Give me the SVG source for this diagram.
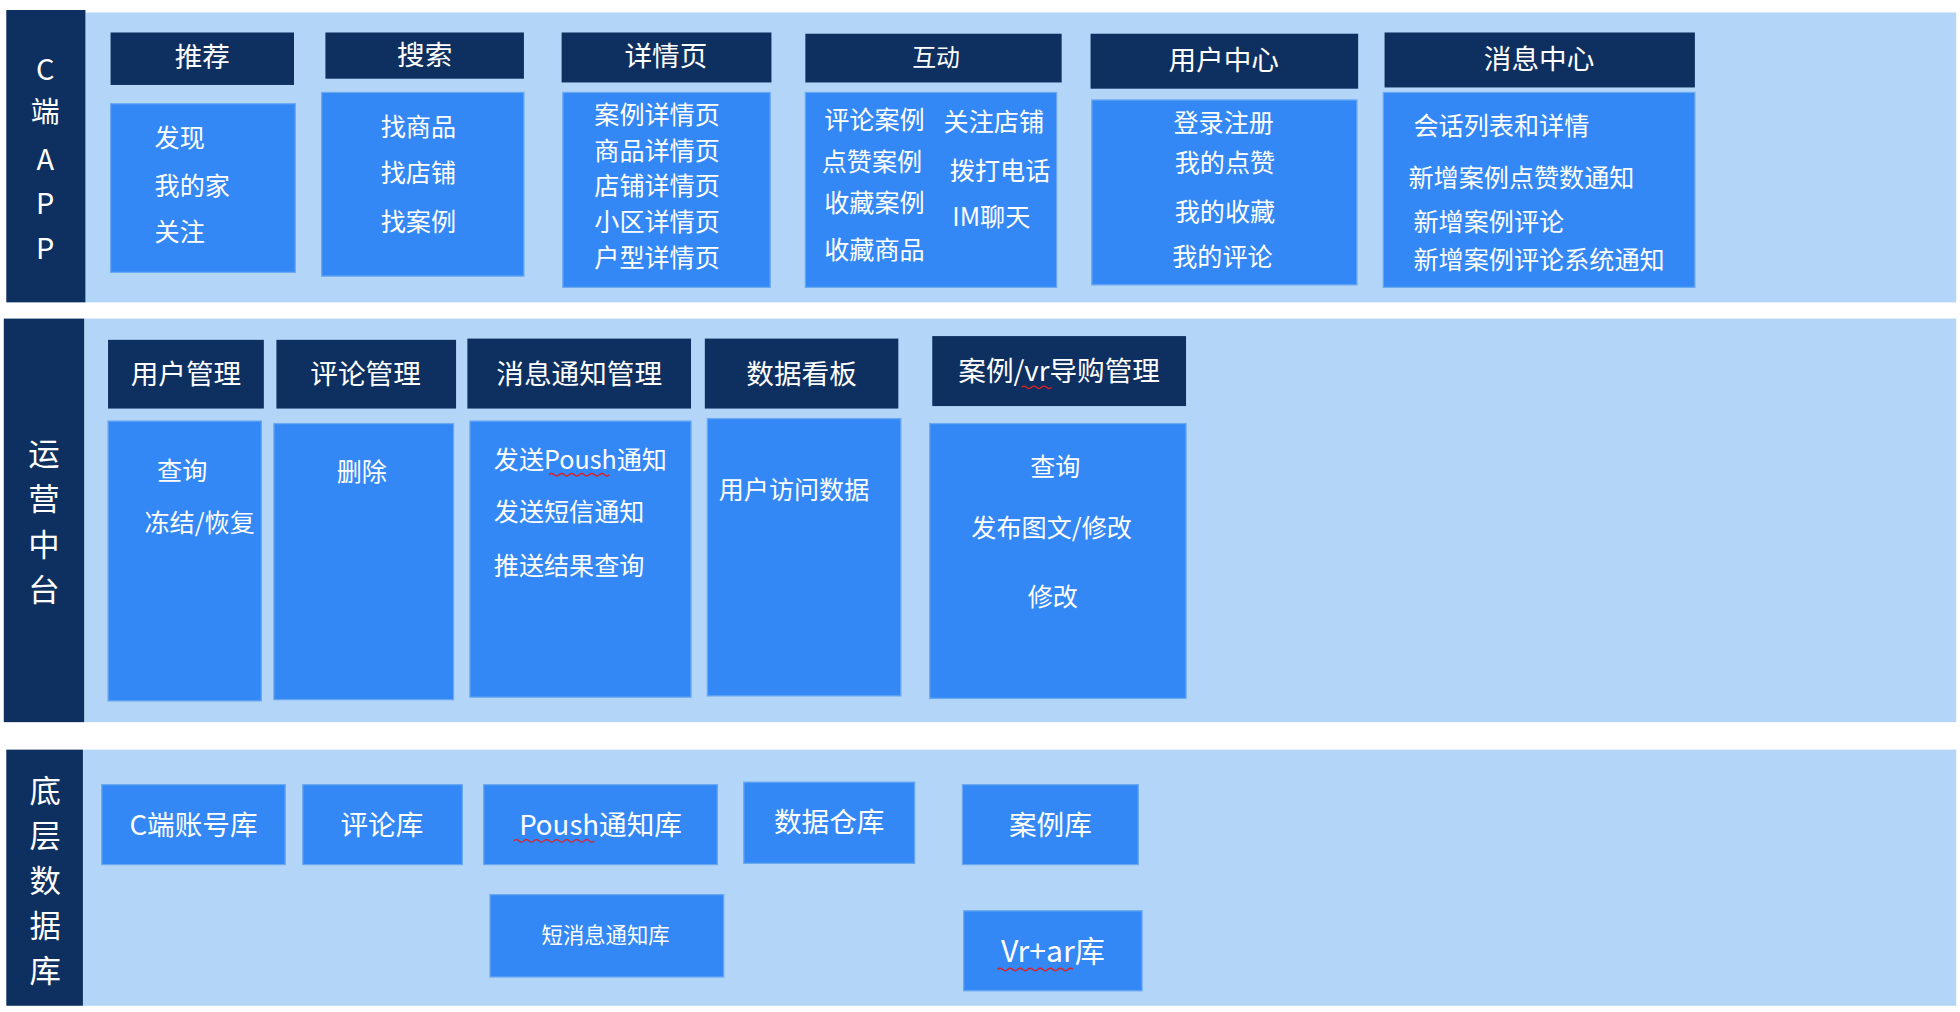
<svg xmlns="http://www.w3.org/2000/svg" width="1960" height="1012" viewBox="0 0 1960 1012">
<style>
.band{fill:#b3d5f8}
.lab{fill:#0e3060}
.hd{fill:#0e3060}
.bx{fill:#3388f5;stroke:#6aa8f0;stroke-width:1}
text{font-family:"Noto Sans CJK SC","Liberation Sans",sans-serif;fill:#fff}
.t{font-size:20px}
.h{font-size:22px}
.v{font-size:25px;text-anchor:middle}
.m{text-anchor:middle}
.sq{fill:none;stroke:#e02020;stroke-width:1}
</style>
<rect width="1960" height="1012" fill="#fff"/>
<g transform="scale(1.2564 1.2494)">
<g id="layer-capp">
<rect class="band" x="68" y="10" width="1489" height="232"/>
<rect class="lab" x="5" y="8" width="63" height="234"/>
<text class="v" x="36" y="64" style="font-size:23px">C</text>
<text class="v" x="36" y="98" style="font-size:23px">端</text>
<text class="v" x="36" y="136" style="font-size:23px">A</text>
<text class="v" x="36" y="171" style="font-size:23px">P</text>
<text class="v" x="36" y="207" style="font-size:23px">P</text>
</g>
<g id="layer-ops">
<rect class="band" x="67" y="255" width="1490" height="323"/>
<rect class="lab" x="3" y="255" width="64" height="323"/>
<text class="v" x="35" y="372">运</text>
<text class="v" x="35" y="408">营</text>
<text class="v" x="35" y="445">中</text>
<text class="v" x="35" y="481">台</text>
</g>
<g id="layer-db">
<rect class="band" x="66" y="600" width="1491" height="205"/>
<rect class="lab" x="5" y="600" width="61" height="205"/>
<text class="v" x="36" y="642">底</text>
<text class="v" x="36" y="678">层</text>
<text class="v" x="36" y="714">数</text>
<text class="v" x="36" y="750">据</text>
<text class="v" x="36" y="786">库</text>
</g>
<g id="rec">
<rect class="hd" x="88" y="26" width="146" height="42"/><text class="h m" x="161" y="54">推荐</text>
<rect class="bx" x="88" y="83" width="147" height="135"/>
<text class="t" x="123" y="118">发现</text><text class="t" x="123" y="156">我的家</text><text class="t" x="123" y="193">关注</text>
</g>
<g id="search">
<rect class="hd" x="259" y="26" width="158" height="37"/><text class="h m" x="338" y="52">搜索</text>
<rect class="bx" x="256" y="74" width="161" height="147"/>
<text class="t" x="303" y="109">找商品</text><text class="t" x="303" y="146">找店铺</text><text class="t" x="303" y="185">找案例</text>
</g>
<g id="detail">
<rect class="hd" x="447" y="26" width="167" height="40"/><text class="h m" x="530" y="53">详情页</text>
<rect class="bx" x="448" y="74" width="165" height="156"/>
<text class="t" x="473" y="99">案例详情页</text><text class="t" x="473" y="128">商品详情页</text><text class="t" x="473" y="156">店铺详情页</text><text class="t" x="473" y="185">小区详情页</text><text class="t" x="473" y="214">户型详情页</text>
</g>
<g id="interact">
<rect class="hd" x="641" y="27" width="204" height="39"/><text class="m" x="745" y="53" style="font-size:19px">互动</text>
<rect class="bx" x="641" y="74" width="200" height="156"/>
<text class="t" x="656" y="103">评论案例</text><text class="t" x="654" y="137">点赞案例</text><text class="t" x="656" y="170">收藏案例</text><text class="t" x="656" y="207">收藏商品</text>
<text class="t" x="751" y="105">关注店铺</text><text class="t" x="756" y="144">拨打电话</text><text class="t" x="758" y="181">IM聊天</text>
</g>
<g id="user">
<rect class="hd" x="868" y="27" width="213" height="44"/><text class="h m" x="974" y="56">用户中心</text>
<rect class="bx" x="869" y="80" width="211" height="148"/>
<text class="t m" x="974" y="106">登录注册</text><text class="t m" x="975" y="138">我的点赞</text><text class="t m" x="975" y="177">我的收藏</text><text class="t m" x="973" y="213">我的评论</text>
</g>
<g id="msg">
<rect class="hd" x="1102" y="26" width="247" height="44"/><text class="h m" x="1225" y="55">消息中心</text>
<rect class="bx" x="1101" y="74" width="248" height="156"/>
<text class="t" x="1125" y="108">会话列表和详情</text><text class="t" x="1121" y="150">新增案例点赞数通知</text><text class="t" x="1125" y="185">新增案例评论</text><text class="t" x="1125" y="215">新增案例评论系统通知</text>
</g>
<g id="usermgmt">
<rect class="hd" x="86" y="272" width="124" height="55"/><text class="h m" x="148" y="307">用户管理</text>
<rect class="bx" x="86" y="337" width="122" height="224"/>
<text class="t m" x="145" y="384">查询</text><text class="t" x="115" y="426">冻结/恢复</text>
</g>
<g id="commgmt">
<rect class="hd" x="220" y="272" width="143" height="55"/><text class="h m" x="291" y="307">评论管理</text>
<rect class="bx" x="218" y="339" width="143" height="221"/>
<text class="t m" x="288" y="385">删除</text>
</g>
<g id="notifmgmt">
<rect class="hd" x="372" y="271" width="178" height="56"/><text class="h m" x="461" y="307">消息通知管理</text>
<rect class="bx" x="374" y="337" width="176" height="221"/>
<text class="t" x="393" y="375">发送Poush通知</text><text class="t" x="393" y="417">发送短信通知</text><text class="t" x="393" y="460">推送结果查询</text>
<path class="sq" d="M437 380 q2 -2 4 0 t4 0 t4 0 t4 0 t4 0 t4 0 t4 0 t4 0 t4 0 t4 0 t4 0 t4 0"/>
</g>
<g id="dashboard">
<rect class="hd" x="561" y="271" width="154" height="56"/><text class="h m" x="638" y="307">数据看板</text>
<rect class="bx" x="563" y="335" width="154" height="222"/>
<text class="t" x="572" y="399">用户访问数据</text>
</g>
<g id="casemgmt">
<rect class="hd" x="742" y="269" width="202" height="56"/><text class="h m" x="843" y="305">案例/vr导购管理</text>
<rect class="bx" x="740" y="339" width="204" height="220"/>
<text class="t m" x="840" y="381">查询</text><text class="t m" x="837" y="430">发布图文/修改</text><text class="t m" x="838" y="485">修改</text>
<path class="sq" d="M813 310 q2 -2 4 0 t4 0 t4 0 t4 0 t4 0 t4 0"/>
</g>
<g id="db-account"><rect class="bx" x="81" y="628" width="146" height="64"/><text class="h m" x="154" y="668">C端账号库</text></g>
<g id="db-comment"><rect class="bx" x="241" y="628" width="127" height="64"/><text class="h m" x="304" y="668">评论库</text></g>
<g id="db-poush"><rect class="bx" x="385" y="628" width="186" height="64"/><text class="h m" x="478" y="668">Poush通知库</text>
<path class="sq" d="M409 673 q2 -2 4 0 t4 0 t4 0 t4 0 t4 0 t4 0 t4 0 t4 0 t4 0 t4 0 t4 0 t4 0 t4 0 t4 0 t4 0 t4 0"/></g>
<g id="db-warehouse"><rect class="bx" x="592" y="626" width="136" height="65"/><text class="h m" x="660" y="666">数据仓库</text></g>
<g id="db-case"><rect class="bx" x="766" y="628" width="140" height="64"/><text class="h m" x="836" y="668">案例库</text></g>
<g id="db-sms"><rect class="bx" x="390" y="716" width="186" height="66"/><text class="m" x="482" y="755" style="font-size:17px">短消息通知库</text></g>
<g id="db-vrar"><rect class="bx" x="767" y="729" width="142" height="64"/><text class="m" x="838" y="770" style="font-size:24px">Vr+ar库</text>
<path class="sq" d="M794 776 q2 -2 4 0 t4 0 t4 0 t4 0 t4 0 t4 0 t4 0 t4 0 t4 0 t4 0 t4 0 t4 0 t4 0 t4 0 t4 0"/></g>
<g id="connectors"></g>
</g>
</svg>
